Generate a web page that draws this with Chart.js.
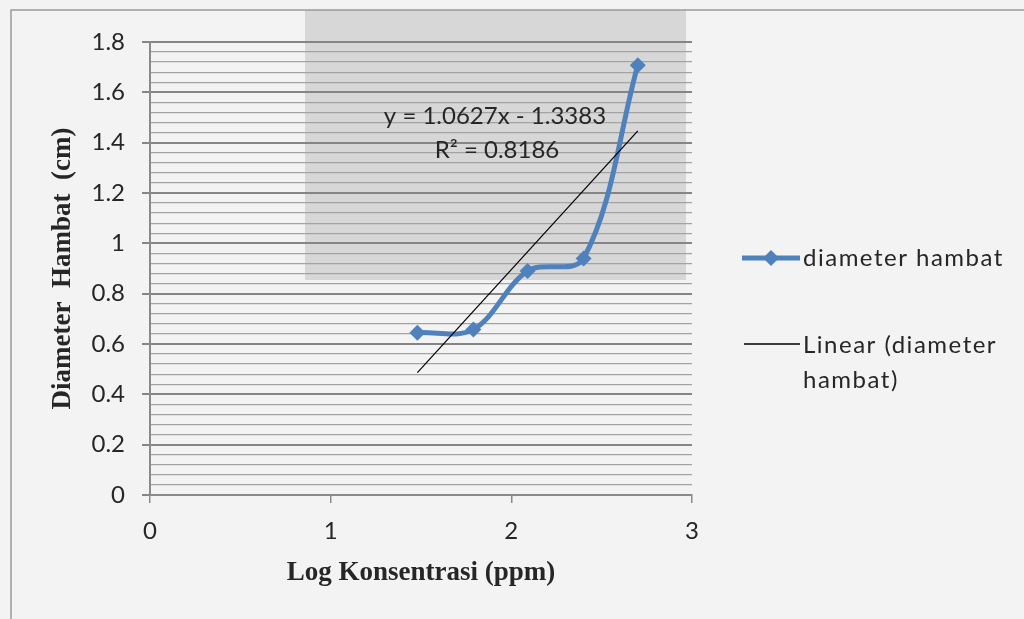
<!DOCTYPE html>
<html>
<head>
<meta charset="utf-8">
<script src="https://cdn.jsdelivr.net/npm/chart.js@4"></script>
<style>
  html, body { margin: 0; padding: 0; background: #f3f3f3; }
  #wrap { width: 1024px; height: 619px; }
</style>
</head>
<body>
<div id="wrap"><canvas id="myChart" width="1024" height="619"></canvas></div>
<script>
const ctx = document.getElementById("myChart");

// data
const logKonsentrasi = [1.48, 1.79, 2.09, 2.40, 2.70];
const diameterHambat = [0.645, 0.658, 0.89, 0.94, 1.708];
const xTicks = [0, 1, 2, 3];
const yTicks = [0, 0.2, 0.4, 0.6, 0.8, 1, 1.2, 1.4, 1.6, 1.8];
const equationText = ['y = 1.0627x - 1.3383', 'R² = 0.8186'];

const tickFont = { family: 'Lato', size: 24 };
const titleFont = { family: 'Liberation Serif', size: 27, weight: 'bold' };

// least squares trend from the points
const n = logKonsentrasi.length;
const mx = logKonsentrasi.reduce((a, b) => a + b, 0) / n;
const my = diameterHambat.reduce((a, b) => a + b, 0) / n;
let sxy = 0, sxx = 0;
for (let i = 0; i < n; i++) {
    sxy += (logKonsentrasi[i] - mx) * (diameterHambat[i] - my);
    sxx += (logKonsentrasi[i] - mx) ** 2;
}
const slope = sxy / sxx;
const intercept = my - slope * mx;
const trendX = [logKonsentrasi[0], logKonsentrasi[n - 1]];

const isMajor = v => Math.round(v * 100) % 20 === 0;

const backdrop = {
    id: 'backdrop',
    beforeDraw(chart) {
        const c = chart.ctx;
        c.save();
        c.fillStyle = '#f3f3f3';
        c.fillRect(0, 0, chart.width, chart.height);
        c.fillStyle = '#d7d7d7';
        c.fillRect(305, 10, 381, 270);
        c.strokeStyle = '#9a9a9a';
        c.lineWidth = 1.5;
        c.beginPath();
        c.moveTo(11, chart.height);
        c.lineTo(11, 10);
        c.lineTo(chart.width, 10);
        c.stroke();
        c.restore();
    }
};

const extras = {
    id: 'extras',
    afterDraw(chart) {
        const c = chart.ctx;
        c.save();
        c.fillStyle = '#262626';
        c.font = '24px Lato';
        c.textAlign = 'center';
        c.textBaseline = 'middle';
        c.fillText(equationText[0], 495, 116);
        c.fillText(equationText[1], 497, 150);

        // legend
        c.textAlign = 'left';
        c.strokeStyle = '#4f81bd';
        c.lineWidth = 5;
        c.beginPath();
        c.moveTo(742, 258);
        c.lineTo(800, 258);
        c.stroke();
        c.fillStyle = '#4f81bd';
        c.beginPath();
        c.moveTo(771, 250);
        c.lineTo(779, 258);
        c.lineTo(771, 266);
        c.lineTo(763, 258);
        c.closePath();
        c.fill();
        c.strokeStyle = '#000';
        c.lineWidth = 1.5;
        c.beginPath();
        c.moveTo(744, 344);
        c.lineTo(800, 344);
        c.stroke();
        c.fillStyle = '#262626';
        c.letterSpacing = '1.5px';
        c.fillText(chart.data.datasets[0].label, 803, 258);
        c.fillText('Linear (diameter', 803, 345);
        c.fillText('hambat)', 803, 380);
        c.restore();
    }
};

const data = {
    datasets: [
        {
            label: 'diameter hambat',
            data: logKonsentrasi.map((x, i) => ({ x, y: diameterHambat[i] })),
            borderColor: '#4f81bd',
            backgroundColor: '#4f81bd',
            borderWidth: 5,
            tension: 0.35,
            pointStyle: 'rectRot',
            pointRadius: 8,
            pointBorderWidth: 0,
            order: 2
        }, {
            label: 'Linear (diameter hambat)',
            data: trendX.map(x => ({ x, y: slope * x + intercept })),
            borderColor: '#000',
            borderWidth: 1.2,
            pointRadius: 0,
            order: 1
        }
    ]
};

const config = {
    type: 'line',
    data: data,
    plugins: [backdrop, extras],
    options: {
        responsive: false,
        animation: false,
        layout: { padding: { top: 42, right: 332, left: 0, bottom: 0 } },
        plugins: { legend: { display: false }, tooltip: { enabled: false } },
        scales: {
            x: {
                type: 'linear',
                min: 0,
                max: 3,
                afterFit: s => { s.height = 124; },
                afterBuildTicks: s => { s.ticks = xTicks.map(v => ({ value: v })); },
                ticks: { font: tickFont, color: '#262626', padding: 14 },
                grid: { drawOnChartArea: false, color: '#8a8a8a', tickLength: 8, lineWidth: 1.5 },
                border: { display: true, color: '#8a8a8a', width: 2 },
                title: { display: true, text: 'Log Konsentrasi (ppm)', font: titleFont, color: '#262626', padding: { bottom: 30 } }
            },
            y: {
                min: 0,
                max: 1.8,
                afterFit: s => { s.width = 150; },
                ticks: {
                    stepSize: 0.04,
                    maxTicksLimit: 100,
                    autoSkip: false,
                    font: tickFont,
                    color: '#262626',
                    padding: 17,
                    callback: v => isMajor(v) ? String(yTicks[Math.round(v * 5)]) : ''
                },
                grid: {
                    color: c => isMajor(c.tick.value) ? '#858585' : '#a3a3a3',
                    lineWidth: c => isMajor(c.tick.value) ? 2 : 1.3,
                    tickColor: c => isMajor(c.tick.value) ? '#858585' : 'rgba(0,0,0,0)',
                    tickLength: 8
                },
                border: { display: true, color: '#8a8a8a', width: 2 },
                title: { display: true, text: 'Diameter  Hambat  (cm)', font: titleFont, color: '#262626', padding: { top: 47 } }
            }
        }
    }
};

const myChart = new Chart(ctx, config);
</script>
</body>
</html>
